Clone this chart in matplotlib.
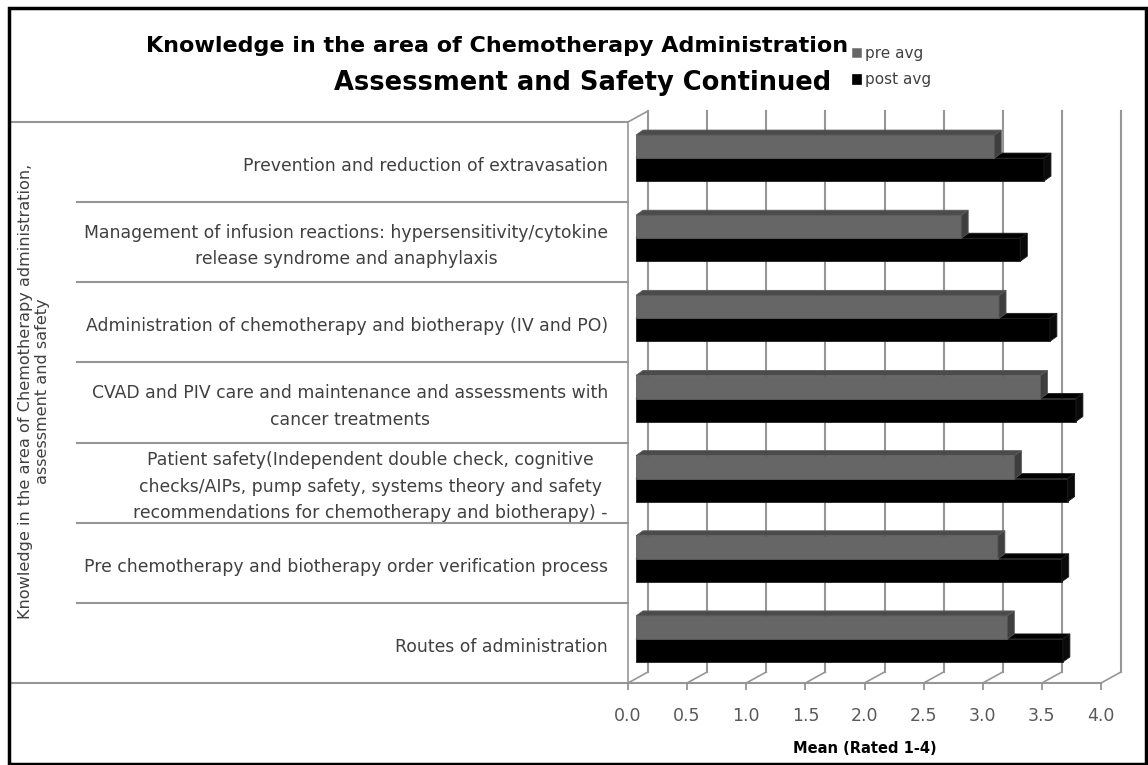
import numpy as np
import matplotlib
matplotlib.use("Agg")
import matplotlib.pyplot as plt
from matplotlib.patches import Polygon, Patch, Rectangle

# data, top to bottom as in the chart
categories = [
    "Prevention and reduction of extravasation",
    "Management of infusion reactions: hypersensitivity/cytokine\nrelease syndrome and anaphylaxis",
    "Administration of chemotherapy and biotherapy (IV and PO)",
    "CVAD and PIV care and maintenance and assessments with\ncancer treatments",
    "Patient safety(Independent double check, cognitive\nchecks/AIPs, pump safety, systems theory and safety\nrecommendations for chemotherapy and biotherapy) -",
    "Pre chemotherapy and biotherapy order verification process",
    "Routes of administration",
]
pre_avg = [3.03, 2.75, 3.07, 3.42, 3.20, 3.06, 3.14]
post_avg = [3.45, 3.25, 3.50, 3.72, 3.65, 3.60, 3.61]
x_ticks = [0.0, 0.5, 1.0, 1.5, 2.0, 2.5, 3.0, 3.5, 4.0]

plt.rcParams['font.family'] = ['DejaVu Sans']

W, H = 1148, 765
fig = plt.figure(figsize=(W / 100, H / 100), dpi=100)

# plot area (front plane) in pixels
px_l, px_r, px_t, px_b = 628, 1101, 122, 683
ax = fig.add_axes([px_l / W, 1 - px_b / H, (px_r - px_l) / W, (px_b - px_t) / H])
n = len(categories)
ax.set_xlim(0, 4)
ax.set_ylim(-0.5, n - 0.5)
ppx = (px_r - px_l) / 4.0          # pixels per x unit
ppy = (px_b - px_t) / float(n)     # pixels per y unit

def dx(p):
    return p / ppx

def dy(p):
    return p / ppy

for s in ax.spines.values():
    s.set_visible(False)
ax.set_yticks([])
ax.set_xticks(x_ticks)
ax.set_xticklabels(["%.1f" % t for t in x_ticks], fontsize=12.5, color='#595959')
ax.tick_params(axis='x', length=5, color='#8c8c8c', width=1.2, pad=12)
ax.set_xlabel("Mean (Rated 1-4)", fontsize=10.5, fontweight='bold', labelpad=12)

grid_c = '#969696'
DX, DY = dx(20), dy(11)
ybot, ytop = -0.5, n - 0.5
# back wall gridlines and floor diagonals
for t in x_ticks:
    ax.plot([t + DX, t + DX], [ybot + DY, ytop + DY], color=grid_c, lw=1.5, clip_on=False, zorder=1)
    ax.plot([t, t + DX], [ybot, ybot + DY], color=grid_c, lw=1.2, clip_on=False, zorder=1)
# left wall front edge and top diagonal
ax.plot([0, 0], [ybot, ytop], color=grid_c, lw=1.2, clip_on=False, zorder=1)
ax.plot([0, DX], [ytop, ytop + DY], color=grid_c, lw=1.2, clip_on=False, zorder=1)
# baseline and category separators reaching left
x_far = dx(12 - px_l)
x_in = dx(77 - px_l)
ax.plot([x_far, 4], [ybot, ybot], color=grid_c, lw=1.5, clip_on=False, zorder=1)
ax.plot([x_far, 0], [ytop, ytop], color=grid_c, lw=1.5, clip_on=False, zorder=1)
for k in range(1, n):
    ax.plot([x_in, 0], [k - 0.5, k - 0.5], color=grid_c, lw=1.5, clip_on=False, zorder=1)

# 3D bars
bx0 = dx(8)
by_shift = dy(4)
bh = dy(23)
bdx, bdy = dx(7), dy(5)

def bar3d(val, y0, front, top, side, ec, z):
    x0, x1 = bx0, bx0 + val
    y1 = y0 + bh
    ax.add_patch(Rectangle((x0, y0), val, bh, facecolor=front, edgecolor=ec, lw=0.6, zorder=z, clip_on=False))
    ax.add_patch(Polygon([(x0, y1), (x1, y1), (x1 + bdx, y1 + bdy), (x0 + bdx, y1 + bdy)],
                         closed=True, facecolor=top, edgecolor=ec, lw=0.6, zorder=z, clip_on=False))
    ax.add_patch(Polygon([(x1, y0), (x1 + bdx, y0 + bdy), (x1 + bdx, y1 + bdy), (x1, y1)],
                         closed=True, facecolor=side, edgecolor=ec, lw=0.6, zorder=z, clip_on=False))

for i in range(n):
    yc = n - 1 - i + by_shift
    yb = yc - bh
    bar3d(post_avg[i], yb, '#000000', '#000000', '#0a0a0a', '#1e1e1e', 3)
    bar3d(pre_avg[i], yc, '#666666', '#4b4b4b', '#3e3e3e', '#5a5a5a', 4)
    ax.text(dx(608 - px_l), n - 1 - i - dy(4), categories[i], ha='right', va='center',
            multialignment='center', fontsize=12.4, color='#404040', clip_on=False,
            linespacing=1.6)

# y axis title
fig.text(34 / W, 1 - 391 / H, "Knowledge in the area of Chemotherapy administration,\nassessment and safety",
         rotation=90, ha='center', va='center', multialignment='center', fontsize=11.6, color='#404040',
         linespacing=1.15)

# chart title
fig.text(497 / W, 1 - 46 / H, "Knowledge in the area of Chemotherapy Administration",
         ha='center', va='center', fontsize=16, fontweight='bold', color='#000000')
fig.text(583 / W, 1 - 83 / H, "Assessment and Safety Continued",
         ha='center', va='center', fontsize=18.5, fontweight='bold', color='#000000')

# legend
handles = [Patch(facecolor='#666666', edgecolor='#7a7a7a', lw=0.5),
           Patch(facecolor='#000000', edgecolor='#000000', lw=0.5)]
fig.legend(handles, ["pre avg", "post avg"], loc='upper left', bbox_to_anchor=(852 / W, 1 - 46 / H),
           frameon=False, fontsize=11, handlelength=0.6, handleheight=0.6, handletextpad=0.25,
           labelspacing=0.75, labelcolor='#404040', borderpad=0, borderaxespad=0)

# outer border
fig.patches.append(Rectangle((8.5 / W, 1.5 / H), (W - 11) / W, (H - 9.5) / H, transform=fig.transFigure,
                             fill=False, edgecolor='#000000', lw=2.5))

fig.savefig("out.png", dpi=100)
